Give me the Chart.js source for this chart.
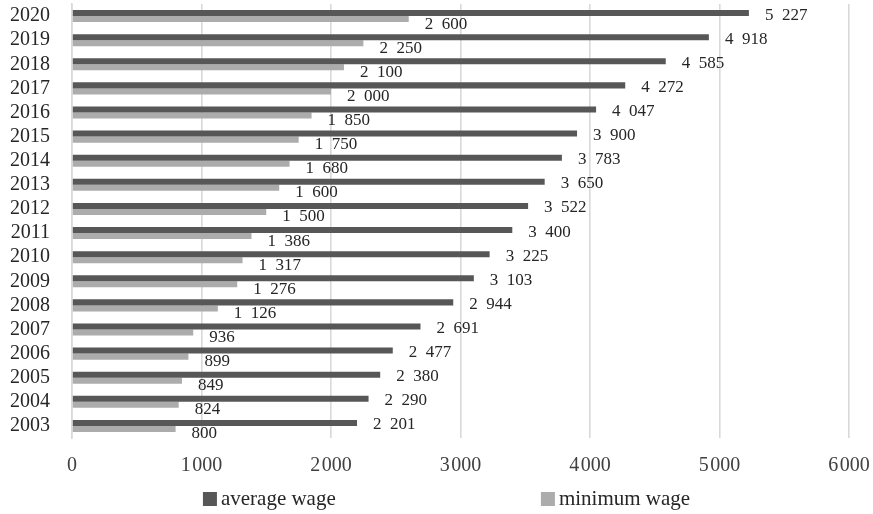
<!DOCTYPE html>
<html>
<head>
<meta charset="utf-8">
<script src="https://cdn.jsdelivr.net/npm/chart.js@4/dist/chart.umd.min.js"></script>
<style>
  html, body { margin: 0; padding: 0; background: #ffffff; }
  #wrap { width: 873px; height: 514px; position: relative; }
</style>
</head>
<body>
<div id="wrap"><canvas id="chart" width="873" height="514"></canvas></div>
<script>
// Years (bottom to top) and wages for each year
const years = ['2003','2004','2005','2006','2007','2008','2009','2010','2011','2012','2013','2014','2015','2016','2017','2018','2019','2020'];
const averageWage = [2201, 2290, 2380, 2477, 2691, 2944, 3103, 3225, 3400, 3522, 3650, 3783, 3900, 4047, 4272, 4585, 4918, 5227];
const minimumWage = [800, 824, 849, 899, 936, 1126, 1276, 1317, 1386, 1500, 1600, 1680, 1750, 1850, 2000, 2100, 2250, 2600];
const seriesNames = ['average wage', 'minimum wage'];
const xTicks = [0, 1000, 2000, 3000, 4000, 5000, 6000];

const DARK = '#575757';
const LIGHT = '#acacac';
const FONT = '"Liberation Serif", "Times New Roman", serif';

// "5227" -> "5 227"
function fmtValue(v) {
  const s = String(v);
  return s.length > 3 ? s.slice(0, s.length - 3) + '\u2002' + s.slice(-3) : s;
}
// axis ticks: "1000" -> "1 000" with a hair space
function fmtTick(v) {
  const s = String(v);
  return s.length > 3 ? s.slice(0, s.length - 3) + '\u200A' + s.slice(-3) : s;
}

// Value labels next to each bar end
const valueLabels = {
  id: 'valueLabels',
  afterDatasetsDraw(chart) {
    const ctx = chart.ctx;
    ctx.save();
    ctx.font = '17px ' + FONT;
    ctx.fillStyle = '#262626';
    ctx.textAlign = 'left';
    ctx.textBaseline = 'middle';
    chart.data.datasets.forEach((ds, di) => {
      const meta = chart.getDatasetMeta(di);
      meta.data.forEach((bar, i) => {
        const dy = di === 0 ? 2 : 5;
        ctx.fillText(fmtValue(ds.data[i]), bar.x + 16, bar.y + dy);
      });
    });
    ctx.restore();
  }
};

// Legend row under the axis
const bottomLegend = {
  id: 'bottomLegend',
  afterDraw(chart) {
    const ctx = chart.ctx;
    const a = chart.chartArea;
    const w = a.right - a.left;
    const y = 499;
    const positions = [a.left + 0.1685 * w, a.left + 0.6035 * w];
    ctx.save();
    ctx.font = '21px ' + FONT;
    ctx.textBaseline = 'middle';
    ctx.textAlign = 'left';
    chart.data.datasets.forEach((ds, i) => {
      const x = positions[i];
      ctx.fillStyle = ds.backgroundColor;
      ctx.fillRect(x, y - 7, 14, 14);
      ctx.fillStyle = '#262626';
      ctx.fillText(ds.label, x + 18, y);
    });
    ctx.restore();
  }
};

new Chart(document.getElementById('chart'), {
  type: 'bar',
  data: {
    labels: years,
    datasets: [
      { label: seriesNames[0], data: averageWage, backgroundColor: DARK },
      { label: seriesNames[1], data: minimumWage, backgroundColor: LIGHT }
    ]
  },
  options: {
    indexAxis: 'y',
    responsive: false,
    animation: false,
    events: [],
    layout: { padding: { top: 4, right: 24, left: 0, bottom: 0 } },
    datasets: {
      bar: { categoryPercentage: 0.5, barPercentage: 1.0, borderWidth: 0 }
    },
    plugins: {
      legend: { display: false },
      tooltip: { enabled: false }
    },
    scales: {
      x: {
        min: 0,
        max: 6000,
        afterBuildTicks(scale) { scale.ticks = xTicks.map(v => ({ value: v })); },
        afterFit(scale) {
          scale.height = 76;
          scale.paddingLeft = 0;
          scale.paddingRight = 0;
        },
        grid: { color: '#d9d9d9', lineWidth: 1.6, drawTicks: false },
        border: { display: false },
        ticks: {
          padding: 16,
          color: '#404040',
          font: { family: FONT, size: 20 },
          callback: (v) => fmtTick(v),
          maxRotation: 0,
          autoSkip: false
        }
      },
      y: {
        reverse: true,
        afterFit(scale) {
          scale.width = 72;
          scale.paddingTop = 0;
          scale.paddingBottom = 0;
        },
        grid: { display: false, drawTicks: false },
        border: { display: true, color: '#d9d9d9', width: 1.6 },
        ticks: {
          padding: 22,
          color: '#262626',
          font: { family: FONT, size: 20 },
          autoSkip: false
        }
      }
    }
  },
  plugins: [valueLabels, bottomLegend]
});
</script>
</body>
</html>
